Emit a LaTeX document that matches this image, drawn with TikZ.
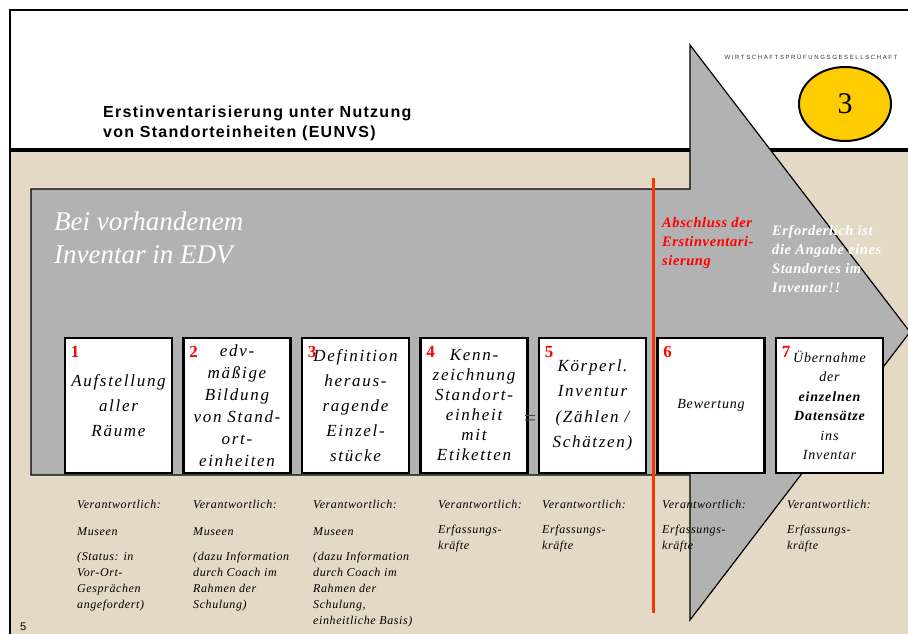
\documentclass[tikz,border=0pt]{standalone}
\usepackage{fontspec}
\setmainfont{Liberation Serif}
\setsansfont{Liberation Sans}
\usetikzlibrary{positioning,shapes.geometric}
\definecolor{arrowgray}{HTML}{B2B2B2}
\definecolor{sand}{HTML}{E3D9C5}
\definecolor{signal}{HTML}{FF3300}
\definecolor{gold}{HTML}{FFCC00}
\begin{document}
\begin{tikzpicture}[x=1pt, y=-1pt, node distance=118.5pt,
  stepbox/.style={draw, line width=2.5pt, fill=white, minimum width=107pt, minimum height=135pt,
    inner sep=0pt, align=center, font=\fontsize{17}{#1}\selectfont\itshape\addfontfeature{LetterSpace=10}},
  stepbox/.default=22,
  num/.style={anchor=north west, inner sep=0pt, xshift=7pt, yshift=-9pt, text=red,
    font=\fontsize{17}{17}\selectfont\bfseries},
  note/.style={anchor=base west, inner sep=0pt, align=left,
    font=\fontsize{12}{16}\selectfont\itshape\addfontfeature{LetterSpace=5}}]
  \useasboundingbox (0,0) rectangle (908,634);
  \fill[white] (0,0) rectangle (908,634);
  \fill[sand] (10,150) rectangle (908,634);
  \draw[line width=1.5pt] (10,634) -- (10,10) -- (908,10);
  \draw[line width=4pt] (10,150) -- (908,150);

  \filldraw[fill=arrowgray, line width=1.2pt, line join=miter]
    (31,189) -- (690,189) -- (690,45) -- (910,332) -- (690,620) -- (690,475) -- (31,475) -- cycle;
  \draw[signal, line width=3pt] (653,178) -- (653,613);

  \node[anchor=base west, align=left, inner sep=0pt,
    font=\sffamily\bfseries\fontsize{16}{20}\selectfont\addfontfeature{LetterSpace=8}] (title) at (103,137)
    {Erstinventarisierung unter Nutzung\\von Standorteinheiten (EUNVS)};
  \node[text=black!80, font=\sffamily\fontsize{6}{6}\selectfont\addfontfeature{LetterSpace=27}] (firm) at (811,57)
    {WIRTSCHAFTSPRÜFUNGSGESELLSCHAFT};
  \node[ellipse, draw, line width=2pt, fill=gold, minimum width=92pt, minimum height=74pt,
    font=\fontsize{30}{30}\selectfont] (logo) at (845,104) {3};

  \node[anchor=base west, align=left, inner sep=0pt, text=white,
    font=\fontsize{27}{33}\selectfont\itshape] (head) at (54,263) {Bei vorhandenem\\Inventar in EDV};
  \node[anchor=base west, align=left, inner sep=0pt, text=red,
    font=\fontsize{14.5}{19}\selectfont\bfseries\itshape\addfontfeature{LetterSpace=4}] (done) at (662,265)
    {Abschluss der\\Erstinventari-\\sierung};
  \node[anchor=base west, align=left, inner sep=0pt, text=white,
    font=\fontsize{14.5}{19}\selectfont\bfseries\itshape\addfontfeature{LetterSpace=4}] (hint) at (772,292)
    {Erforderlich ist\\die Angabe eines\\Standortes im\\Inventar!!};

  \node[stepbox=25] (b1) at (118.5,405.5) {Aufstellung\\aller\\Räume};
  \node[stepbox] (b2) [right of=b1] {edv-\\mäßige\\Bildung\\von Stand-\\ort-\\einheiten};
  \node[stepbox=25] (b3) [right of=b2] {Definition\\heraus-\\ragende\\Einzel-\\stücke};
  \node[stepbox=20] (b4) [right of=b3] {Kenn-\\zeichnung\\Standort-\\einheit\\mit\\Etiketten};
  \node[stepbox=25.5] (b5) [right of=b4] {Körperl.\\Inventur\\(Zählen /\\Schätzen)};
  \node[stepbox, font=\fontsize{14}{19}\selectfont\itshape\addfontfeature{LetterSpace=6}] (b6) [right of=b5] {Bewertung};
  \node[stepbox, font=\fontsize{14}{19.5}\selectfont\itshape\addfontfeature{LetterSpace=6}] (b7) [right of=b6]
    {Übernahme\\der\\\textbf{einzelnen}\\\textbf{Datensätze}\\ins\\Inventar};
  \node[text=black!70, font=\fontsize{22}{22}\selectfont] (eq) at (530,420) {=};

  \node[num] at (b1.north west) {1};
  \node[num] at (b2.north west) {2};
  \node[num] at (b3.north west) {3};
  \node[num] at (b4.north west) {4};
  \node[num] at (b5.north west) {5};
  \node[num] at (b6.north west) {6};
  \node[num] at (b7.north west) {7};

  \node[note] (n1) at (77,608) {Verantwortlich:\\[11pt]Museen\\[9pt](Status: in\\Vor-Ort-\\Gesprächen\\angefordert)};
  \node[note] (n2) at (193,608) {Verantwortlich:\\[11pt]Museen\\[9pt](dazu Information\\durch Coach im\\Rahmen der\\Schulung)};
  \node[note] (n3) at (313,624) {Verantwortlich:\\[11pt]Museen\\[9pt](dazu Information\\durch Coach im\\Rahmen der\\Schulung,\\einheitliche Basis)};
  \node[note] (n4) at (438,549) {Verantwortlich:\\[9pt]Erfassungs-\\kräfte};
  \node[note] (n5) at (542,549) {Verantwortlich:\\[9pt]Erfassungs-\\kräfte};
  \node[note] (n6) at (662,549) {Verantwortlich:\\[9pt]Erfassungs-\\kräfte};
  \node[note] (n7) at (787,549) {Verantwortlich:\\[9pt]Erfassungs-\\kräfte};

  \node[anchor=base west, inner sep=0pt, font=\sffamily\fontsize{11}{11}\selectfont] (page) at (20,630) {5};
\end{tikzpicture}
\end{document}
